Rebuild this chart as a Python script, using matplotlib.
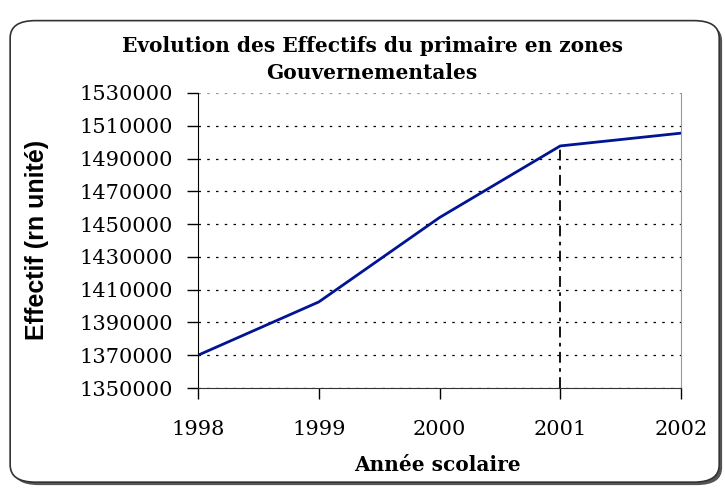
import matplotlib.pyplot as plt
from matplotlib.patches import FancyBboxPatch

annees = [1998, 1999, 2000, 2001, 2002]
effectifs = [1370000, 1402500, 1454000, 1497700, 1505500]
y_ticks = list(range(1350000, 1530001, 20000))

fig = plt.figure(figsize=(7.25, 4.91), dpi=100)

# cadre arrondi avec ombre
ombre = FancyBboxPatch((0.018, 0.012), 0.978, 0.94, boxstyle="round,pad=0,rounding_size=0.035",
                       transform=fig.transFigure, facecolor="#555555", edgecolor="none", zorder=-2)
cadre = FancyBboxPatch((0.014, 0.018), 0.978, 0.94, boxstyle="round,pad=0,rounding_size=0.035",
                       transform=fig.transFigure, facecolor="white", edgecolor="#333333",
                       linewidth=1.2, zorder=-1)
fig.patches.extend([ombre, cadre])

ax = fig.add_axes([198 / 725, 1 - 388 / 491, (681 - 198) / 725, (388 - 93) / 491])
ax.set_facecolor("none")

ax.plot(annees, effectifs, color="#001494", linewidth=2)
ax.plot([2001, 2001], [1350000, effectifs[3]], color="black", linewidth=1.3,
        linestyle=(0, (6, 3, 2, 3)))

ax.set_xlim(1998, 2002)
ax.set_ylim(1350000, 1530000)
ax.set_xticks(annees)
ax.set_yticks(y_ticks)
ax.set_yticklabels([str(v) for v in y_ticks])

ax.grid(axis="y", color="black", linestyle=(0, (2, 5)), linewidth=0.9)
ax.grid(axis="x", visible=False)
ax.get_ygridlines()[-1].set_color("#999999")

ax.spines["right"].set_color("#999999")
ax.spines["top"].set_visible(False)
ax.spines["left"].set_color("black")
ax.spines["bottom"].set_color("#333333")

ax.tick_params(axis="both", direction="out", length=8, width=1, labelsize=15)
ax.tick_params(axis="y", pad=10)
ax.tick_params(axis="x", pad=15)
for lab in ax.get_xticklabels() + ax.get_yticklabels():
    lab.set_family("DejaVu Serif")

fig.text(372 / 725, 1 - 46 / 491, "Evolution des Effectifs du primaire en zones",
         ha="center", va="center", family="DejaVu Serif", weight="bold", fontsize=14.5)
fig.text(372 / 725, 1 - 73 / 491, "Gouvernementales",
         ha="center", va="center", family="DejaVu Serif", weight="bold", fontsize=14.5)
fig.text(437 / 725, 1 - 465 / 491, "Année scolaire",
         ha="center", va="center", family="DejaVu Serif", weight="bold", fontsize=14.5)
fig.text(37 / 725, 1 - 240 / 491, "Effectif (rn unité)", rotation=90,
         ha="center", va="center", family="Liberation Sans", weight="bold", fontsize=18)

fig.savefig("out.png", dpi=100)
